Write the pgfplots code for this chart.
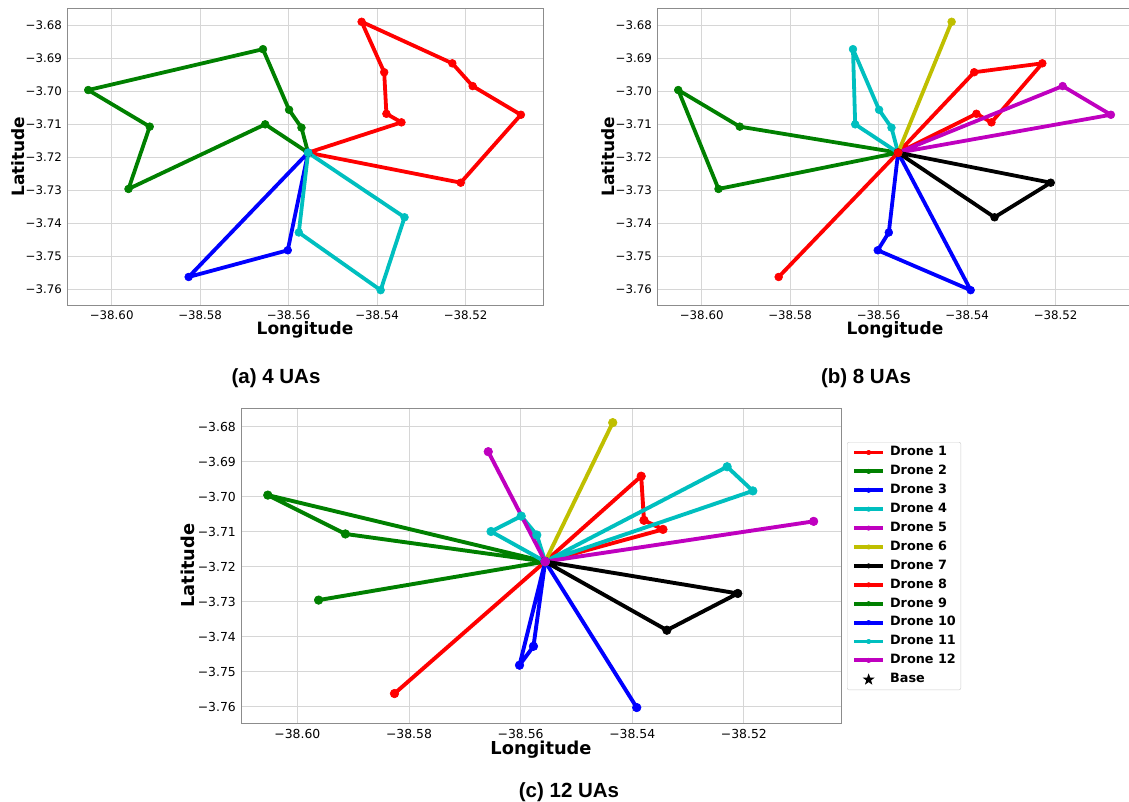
\documentclass[border=0pt]{standalone}
\usepackage{fontspec}
\setmainfont{DejaVu Sans}
\newfontfamily\capfont{Liberation Sans}
\usepackage{pgfplots}
\pgfplotsset{compat=1.18}

\pgfdeclareplotmark{fstar}{%
\pgfpathmoveto{\pgfpointpolar{90}{\pgfplotmarksize}}%
\pgfpathlineto{\pgfpointpolar{126}{0.4\pgfplotmarksize}}%
\pgfpathlineto{\pgfpointpolar{162}{\pgfplotmarksize}}%
\pgfpathlineto{\pgfpointpolar{198}{0.4\pgfplotmarksize}}%
\pgfpathlineto{\pgfpointpolar{234}{\pgfplotmarksize}}%
\pgfpathlineto{\pgfpointpolar{270}{0.4\pgfplotmarksize}}%
\pgfpathlineto{\pgfpointpolar{306}{\pgfplotmarksize}}%
\pgfpathlineto{\pgfpointpolar{342}{0.4\pgfplotmarksize}}%
\pgfpathlineto{\pgfpointpolar{18}{\pgfplotmarksize}}%
\pgfpathlineto{\pgfpointpolar{54}{0.4\pgfplotmarksize}}%
\pgfpathclose
\pgfusepathqfill}

\definecolor{mr}{rgb}{1,0,0}
\definecolor{mg}{rgb}{0,0.5,0}
\definecolor{mb}{rgb}{0,0,1}
\definecolor{mc}{rgb}{0,0.75,0.75}
\definecolor{mm}{rgb}{0.75,0,0.75}
\definecolor{my}{rgb}{0.75,0.75,0}
\definecolor{mk}{rgb}{0,0,0}

\pgfplotsset{
 uamap/.style={
  scale only axis,
  xmin=-38.6101, xmax=-38.5025, ymin=-3.7648, ymax=-3.6748,
  xtick={-38.60,-38.58,-38.56,-38.54,-38.52},
  xticklabels={−38.60,−38.58,−38.56,−38.54,−38.52},
  ytick={-3.76,-3.75,-3.74,-3.73,-3.72,-3.71,-3.70,-3.69,-3.68},
  yticklabels={−3.76,−3.75,−3.74,−3.73,−3.72,−3.71,−3.70,−3.69,−3.68},
  major tick length=0pt,
  grid=major,
  major grid style={draw=black!16, line width=0.8pt},
  axis line style={draw=black!45, line width=0.9pt},
  xticklabel style={anchor=north, inner sep=0pt, yshift=-6pt},
  yticklabel style={anchor=east, inner sep=0pt, xshift=-5pt},
  xlabel={Longitude}, ylabel={Latitude},
  clip=false,
 },
 da/.style={#1, line width=3.8pt, line join=round, mark=*, mark size=3.9pt, mark options={solid, line width=0.6pt, fill=#1}},
 dc/.style={#1, line width=3.9pt, line join=round, mark=*, mark size=4.3pt, mark options={solid, line width=0.6pt, fill=#1}},
}

\begin{document}
\begin{tikzpicture}

% ---------------- (a) 4 UAs ----------------
\begin{axis}[uamap, at={(67pt,497pt)}, anchor=south west, width=476pt, height=296.7pt,
  tick label style={font=\fontsize{11.8}{14}\selectfont},
  every axis x label/.style={at={(axis description cs:0.5,0)}, anchor=base, yshift=-30pt, font=\bfseries\fontsize{17}{20}\selectfont},
  every axis y label/.style={at={(axis description cs:-0.0903,0.5)}, anchor=base, rotate=90, font=\bfseries\fontsize{17}{20}\selectfont}]
\addplot[forget plot, only marks, mark=fstar, mark size=3pt, black] coordinates {(-38.5556,-3.7186)};
\addplot[da=mr] coordinates {(-38.5556,-3.7186) (-38.5345,-3.7094) (-38.5379,-3.7068) (-38.5384,-3.6942) (-38.5435,-3.6789) (-38.5230,-3.6915) (-38.5184,-3.6984) (-38.5075,-3.7071) (-38.5211,-3.7277) (-38.5556,-3.7186)};
\addplot[da=mg] coordinates {(-38.5556,-3.7186) (-38.5571,-3.7110) (-38.5599,-3.7056) (-38.5658,-3.6872) (-38.6053,-3.6996) (-38.5914,-3.7107) (-38.5962,-3.7296) (-38.5653,-3.7100) (-38.5556,-3.7186)};
\addplot[da=mb] coordinates {(-38.5556,-3.7186) (-38.5602,-3.7482) (-38.5826,-3.7563) (-38.5556,-3.7186)};
\addplot[da=mc] coordinates {(-38.5556,-3.7186) (-38.5577,-3.7428) (-38.5392,-3.7603) (-38.5338,-3.7382) (-38.5556,-3.7186)};
\end{axis}

% ---------------- (b) 8 UAs ----------------
\begin{axis}[uamap, at={(657pt,497pt)}, anchor=south west, width=476pt, height=296.7pt,
  tick label style={font=\fontsize{11.8}{14}\selectfont},
  every axis x label/.style={at={(axis description cs:0.5,0)}, anchor=base, yshift=-30pt, font=\bfseries\fontsize{17}{20}\selectfont},
  every axis y label/.style={at={(axis description cs:-0.0903,0.5)}, anchor=base, rotate=90, font=\bfseries\fontsize{17}{20}\selectfont}]
\addplot[forget plot, only marks, mark=fstar, mark size=3pt, black] coordinates {(-38.5556,-3.7186)};
\addplot[da=mr] coordinates {(-38.5556,-3.7186) (-38.5384,-3.6942) (-38.5230,-3.6915) (-38.5345,-3.7094) (-38.5379,-3.7068) (-38.5556,-3.7186)};
\addplot[da=mg] coordinates {(-38.5556,-3.7186) (-38.5914,-3.7107) (-38.6053,-3.6996) (-38.5962,-3.7296) (-38.5556,-3.7186)};
\addplot[da=mb] coordinates {(-38.5556,-3.7186) (-38.5577,-3.7428) (-38.5602,-3.7482) (-38.5392,-3.7603) (-38.5556,-3.7186)};
\addplot[da=mc] coordinates {(-38.5556,-3.7186) (-38.5571,-3.7110) (-38.5599,-3.7056) (-38.5658,-3.6872) (-38.5653,-3.7100) (-38.5556,-3.7186)};
\addplot[da=mm] coordinates {(-38.5556,-3.7186) (-38.5184,-3.6984) (-38.5075,-3.7071) (-38.5556,-3.7186)};
\addplot[da=my] coordinates {(-38.5556,-3.7186) (-38.5435,-3.6789) (-38.5556,-3.7186)};
\addplot[da=mk] coordinates {(-38.5556,-3.7186) (-38.5211,-3.7277) (-38.5338,-3.7382) (-38.5556,-3.7186)};
\addplot[da=mr] coordinates {(-38.5556,-3.7186) (-38.5826,-3.7563) (-38.5556,-3.7186)};
\end{axis}

% ---------------- (c) 12 UAs ----------------
\begin{axis}[uamap, at={(241pt,78.7pt)}, anchor=south west, width=600pt, height=315pt,
  xmax=-38.5026,
  tick label style={font=\fontsize{12.4}{15}\selectfont},
  every axis x label/.style={at={(axis description cs:0.5,0)}, anchor=base, yshift=-31pt, font=\bfseries\fontsize{17.8}{21}\selectfont},
  every axis y label/.style={at={(axis description cs:-0.0783,0.5)}, anchor=base, rotate=90, font=\bfseries\fontsize{17.8}{21}\selectfont},
  legend image code/.code={\draw[mark repeat=2,mark phase=2,#1,mark size=2.2pt] plot coordinates {(0pt,0pt) (14.5pt,0pt) (29pt,0pt)};},
  legend cell align=left,
  legend style={at={(1.01,0.893)}, anchor=north west, draw=black!20, fill=white, rounded corners=2pt,
    inner xsep=5pt, inner ysep=4.3pt, row sep=6.9pt,
    font=\bfseries\fontsize{12.8}{15}\selectfont,
    nodes={inner sep=0pt, text height=9.3pt, text depth=2.7pt},
    /tikz/every odd column/.append style={column sep=5pt}},
  ]
\addplot[forget plot, only marks, mark=fstar, mark size=3pt, black] coordinates {(-38.5556,-3.7186)};
\addplot[dc=mr] coordinates {(-38.5556,-3.7186) (-38.5384,-3.6942) (-38.5379,-3.7068) (-38.5345,-3.7094) (-38.5556,-3.7186)};
\addlegendentry{Drone 1}
\addplot[dc=mg] coordinates {(-38.5556,-3.7186) (-38.6053,-3.6996) (-38.5914,-3.7107) (-38.5556,-3.7186)};
\addlegendentry{Drone 2}
\addplot[dc=mb] coordinates {(-38.5556,-3.7186) (-38.5392,-3.7603) (-38.5556,-3.7186)};
\addlegendentry{Drone 3}
\addplot[dc=mc] coordinates {(-38.5556,-3.7186) (-38.5230,-3.6915) (-38.5184,-3.6984) (-38.5556,-3.7186)};
\addlegendentry{Drone 4}
\addplot[dc=mm] coordinates {(-38.5556,-3.7186) (-38.5075,-3.7071) (-38.5556,-3.7186)};
\addlegendentry{Drone 5}
\addplot[dc=my] coordinates {(-38.5556,-3.7186) (-38.5435,-3.6789) (-38.5556,-3.7186)};
\addlegendentry{Drone 6}
\addplot[dc=mk] coordinates {(-38.5556,-3.7186) (-38.5211,-3.7277) (-38.5338,-3.7382) (-38.5556,-3.7186)};
\addlegendentry{Drone 7}
\addplot[dc=mr] coordinates {(-38.5556,-3.7186) (-38.5826,-3.7563) (-38.5556,-3.7186)};
\addlegendentry{Drone 8}
\addplot[dc=mg] coordinates {(-38.5556,-3.7186) (-38.5962,-3.7296) (-38.5556,-3.7186)};
\addlegendentry{Drone 9}
\addplot[dc=mb] coordinates {(-38.5556,-3.7186) (-38.5577,-3.7428) (-38.5602,-3.7482) (-38.5556,-3.7186)};
\addlegendentry{Drone 10}
\addplot[dc=mc] coordinates {(-38.5556,-3.7186) (-38.5571,-3.7110) (-38.5599,-3.7056) (-38.5653,-3.7100) (-38.5556,-3.7186)};
\addlegendentry{Drone 11}
\addplot[dc=mm] coordinates {(-38.5556,-3.7186) (-38.5658,-3.6872) (-38.5556,-3.7186)};
\addlegendentry{Drone 12}
\addlegendimage{black, legend image code/.code={\draw[black] plot[only marks, mark=fstar, mark size=6.3pt] coordinates {(14.5pt,0pt)};}}
\addlegendentry{Base}
\end{axis}

\node[font=\capfont\bfseries\fontsize{20.5}{24}\selectfont, anchor=base] at (276pt,418pt) {(a) 4 UAs};
\node[font=\capfont\bfseries\fontsize{20.5}{24}\selectfont, anchor=base] at (866pt,418pt) {(b) 8 UAs};
\node[font=\capfont\bfseries\fontsize{20.5}{24}\selectfont, anchor=base] at (569pt,4.5pt) {(c) 12 UAs};

\pgfresetboundingbox
\path[use as bounding box] (0pt,0pt) rectangle (1129pt,802pt);
\end{tikzpicture}
\end{document}
